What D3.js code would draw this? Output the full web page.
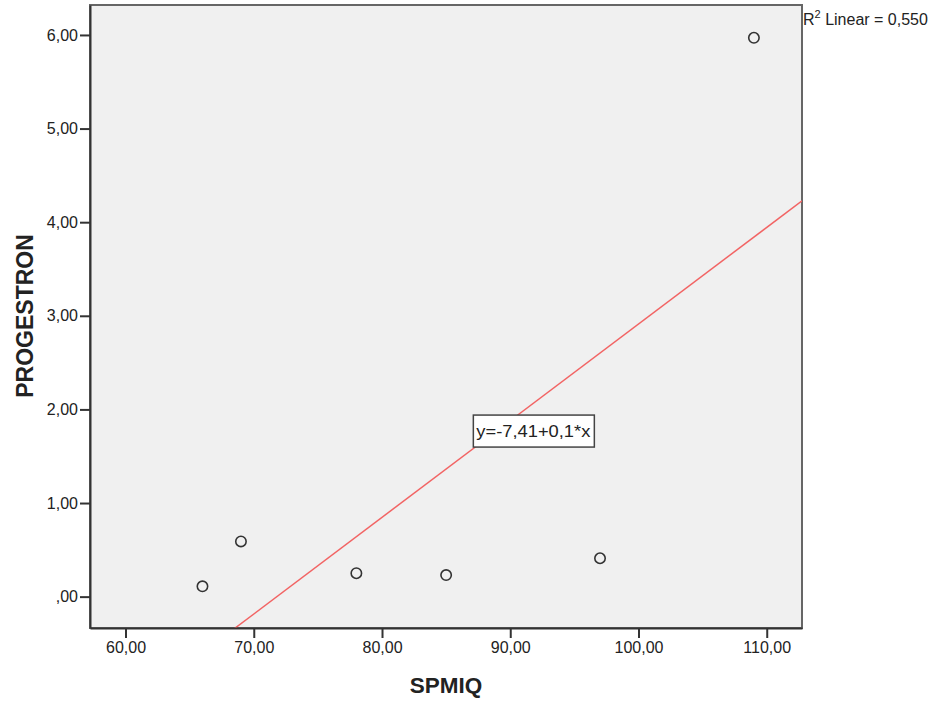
<!DOCTYPE html>
<html>
<head>
<meta charset="utf-8">
<script src="https://cdn.jsdelivr.net/npm/d3@7"></script>
<style>
  body { margin: 0; background: #fff; }
  text { font-family: "Liberation Sans", Arial, sans-serif; fill: #222; }
</style>
</head>
<body>
<div id="chart-area"></div>
<script>
// SPMIQ vs PROGESTRON values
var spmiq = [66, 69, 78, 85, 97, 109];
var progestron = [0.11, 0.59, 0.25, 0.23, 0.41, 5.97];
var xTicks = [60, 70, 80, 90, 100, 110];
var yTicks = [0, 1, 2, 3, 4, 5, 6];
var fitLabel = "y=-7,41+0,1*x";
var r2Label = " Linear = 0,550";

var width = 937, height = 704;
var margin = {left: 90, top: 5, right: 135, bottom: 76};
var innerW = width - margin.left - margin.right;
var innerH = height - margin.top - margin.bottom;

// comma decimal like the SPSS output
var fmt = d => d === 0 ? ",00" : d3.format(".2f")(d).replace(".", ",");

var svg = d3.select("#chart-area").append("svg")
    .attr("width", width)
    .attr("height", height);

var x = d3.scaleLinear().domain([57.23, 112.75]).range([0, innerW]);
var y = d3.scaleLinear().domain([-0.335, 6.32]).range([innerH, 0]);

var g = svg.append("g")
    .attr("transform", `translate(${margin.left},${margin.top})`);

g.append("rect")
    .attr("width", innerW)
    .attr("height", innerH)
    .attr("fill", "#f0f0f0")
    .attr("stroke", "#666")
    .attr("stroke-width", 2);

g.append("clipPath").attr("id", "clip")
  .append("rect").attr("width", innerW).attr("height", innerH);

// least squares fit
var mx = d3.mean(spmiq), my = d3.mean(progestron);
var sxy = d3.sum(spmiq, (d, i) => (d - mx) * (progestron[i] - my));
var sxx = d3.sum(spmiq, d => (d - mx) * (d - mx));
var slope = sxy / sxx, intercept = my - slope * mx;

var xd = x.domain();
g.append("line")
    .attr("clip-path", "url(#clip)")
    .attr("x1", x(xd[0])).attr("y1", y(intercept + slope * xd[0]))
    .attr("x2", x(xd[1])).attr("y2", y(intercept + slope * xd[1]))
    .attr("stroke", "#f26464")
    .attr("stroke-width", 1.5);

g.selectAll("circle")
    .data(spmiq)
    .enter()
    .append("circle")
        .attr("cx", d => x(d))
        .attr("cy", (d, i) => y(progestron[i]))
        .attr("r", 5.2)
        .attr("fill", "none")
        .attr("stroke", "#333")
        .attr("stroke-width", 1.6);

// axes
var xAxis = g.append("g")
    .attr("transform", `translate(0,${innerH})`)
    .call(d3.axisBottom(x).tickValues(xTicks).tickFormat(fmt)
        .tickSizeInner(10).tickSizeOuter(0).tickPadding(4));
var yAxis = g.append("g")
    .call(d3.axisLeft(y).tickValues(yTicks).tickFormat(fmt)
        .tickSizeInner(10).tickSizeOuter(0).tickPadding(2));

[xAxis, yAxis].forEach(a => {
    a.select(".domain").attr("stroke", "#333").attr("stroke-width", 2);
    a.selectAll(".tick line").attr("stroke", "#333").attr("stroke-width", 2);
    a.selectAll(".tick text")
        .attr("font-size", 16)
        .attr("font-family", "Liberation Sans, Arial, sans-serif")
        .attr("fill", "#222");
});

// fit equation box
var lx = x(87.2), ly = y(1.79);
var lab = g.append("g").attr("transform", `translate(${lx},${ly})`);
lab.append("rect")
    .attr("x", -1).attr("y", -14)
    .attr("width", 121).attr("height", 32)
    .attr("fill", "#fff")
    .attr("stroke", "#444")
    .attr("stroke-width", 1.5);
lab.append("text")
    .attr("x", 2).attr("y", 8)
    .attr("font-size", 17)
    .attr("textLength", 114)
    .attr("lengthAdjust", "spacingAndGlyphs")
    .text(fitLabel);

// R squared note
var r2 = svg.append("text")
    .attr("x", margin.left + innerW + 1)
    .attr("y", 25)
    .attr("font-size", 16);
r2.append("tspan").text("R");
r2.append("tspan").attr("dy", -7).attr("font-size", 11).text("2");
r2.append("tspan").attr("dy", 7).text(r2Label);

// axis titles
svg.append("text")
    .attr("x", 446)
    .attr("y", 693)
    .attr("text-anchor", "middle")
    .attr("font-size", 22.5)
    .attr("font-weight", "bold")
    .text("SPMIQ");

svg.append("text")
    .attr("transform", "translate(33,316) rotate(-90)")
    .attr("text-anchor", "middle")
    .attr("font-size", 23)
    .attr("font-weight", "bold")
    .text("PROGESTRON");
</script>
</body>
</html>
